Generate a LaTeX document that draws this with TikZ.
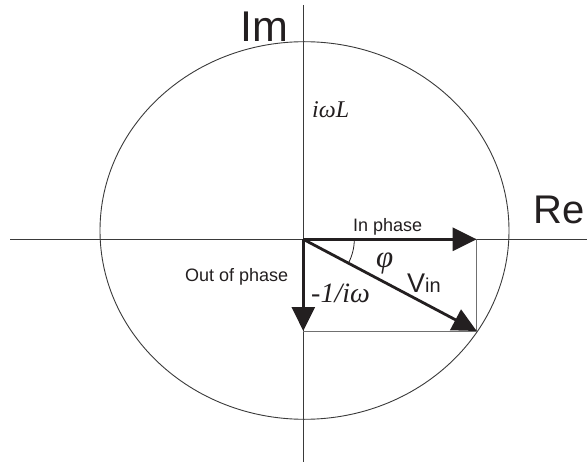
\documentclass[tikz,border=0pt]{standalone}
\usepackage{fontspec}
\setmainfont{Liberation Sans}
\newfontfamily\tms{Liberation Serif}
\usetikzlibrary{arrows.meta,calc}
\definecolor{cInk}{HTML}{231F20}
\definecolor{cAxis}{HTML}{3A3A3A}
\definecolor{cProj}{HTML}{707070}

\begin{document}
\begin{tikzpicture}[x=1pt,y=-1pt,>={Triangle[length=24pt,width=23pt]},
   vec/.style={line width=2.8pt,->,cInk},
   axis/.style={line width=0.9pt,cAxis},
   lbl/.style={inner sep=0pt,anchor=base west,cInk}]
  \useasboundingbox (0,0) rectangle (587,468);
  \coordinate (O) at (303.3,239.3);
  \coordinate (A) at (476.7,239.3);
  \coordinate (B) at (303.3,331);
  \coordinate (C) at (476.7,331);
  % axes
  \coordinate (xl) at (10,239.3);
  \coordinate (xr) at (587,239.3);
  \coordinate (yt) at (303.3,5);
  \coordinate (yb) at (303.3,462);
  \draw[axis] (xl) -- (xr);
  \draw[axis] (yt) -- (yb);
  % circle
  \draw[line width=0.9pt,cAxis] (304.5,230.5) ellipse [x radius=204.5,y radius=188.8];
  % projections
  \draw[line width=0.8pt,cProj] (A) -- (C) -- (B);
  % angle
  \draw[line width=0.8pt,cInk] ($(O)+(51,0)$) arc[start angle=0,end angle=27.9,radius=51];
  % vectors
  \draw[vec] (O) -- (A);
  \draw[vec] (O) -- (B);
  \draw[vec] (O) -- (C);
  % labels
  \node[lbl,font=\fontsize{43}{43}\selectfont] (im) at (240,42) {Im};
  \node[lbl,font=\fontsize{40}{40}\selectfont] (re) at (533,223.3) {Re};
  \node[lbl,font=\tms\itshape\fontsize{24}{24}\selectfont] (iwl) at (312,117.3) {iωL};
  \node[lbl,font=\fontsize{18}{18}\selectfont] (inph) at (353,231.5) {In phase};
  \node[lbl,font=\fontsize{18}{18}\selectfont] (outph) at (185,281.7) {Out of phase};
  \node[lbl,font=\tms\itshape\fontsize{31}{31}\selectfont] (phi) at (376,268) {φ};
  \node[lbl,font=\fontsize{27}{27}\selectfont] (vin) at (407,292) {V{\fontsize{20}{20}\selectfont in}};
  \node[lbl,font=\tms\itshape\fontsize{28}{28}\selectfont] (invw) at (311,302.7) {-1/iω};
\end{tikzpicture}
\end{document}
